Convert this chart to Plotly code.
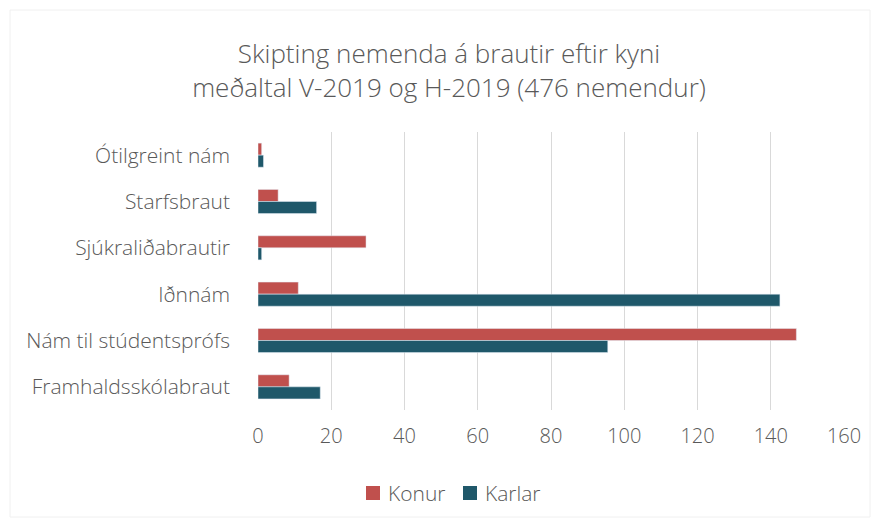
import plotly.graph_objects as go

categories = ["Ótilgreint nám", "Starfsbraut", "Sjúkraliðabrautir", "Iðnnám",
              "Nám til stúdentsprófs", "Framhaldsskólabraut"]
konur = [1, 5.5, 29.5, 11, 147, 8.5]
karlar = [1.5, 16, 1, 142.5, 95.5, 17]
x_ticks = [0, 20, 40, 60, 80, 100, 120, 140, 160]
series_names = ["Konur", "Karlar"]
series_colors = ["#C0504D", "#1F586A"]

FONT = "Open Sans"
GRAY = "#595959"

fig = go.Figure()
for name, vals, col in zip(series_names, [konur, karlar], series_colors):
    fig.add_trace(go.Bar(y=categories, x=vals, name=name, orientation="h",
                         marker=dict(color=col), showlegend=False))

W, H = 880, 527
L, R, T, B = 258, 36, 132, 117
PW, PH = W - L - R, H - T - B


def px(x):
    return (x - L) / PW


def py(y):
    return (H - B - y) / PH


# manual legend (pixel layout)
leg_sq = [366, 463]
leg_txt = [386, 483]
leg_y = 493
shapes = [dict(type="rect", xref="paper", yref="paper",
               x0=px(10), x1=px(870), y0=py(517), y1=py(10),
               line=dict(color="#F0F0F0", width=1), layer="below")]
annotations = []
for name, col, sx, tx in zip(series_names, series_colors, leg_sq, leg_txt):
    shapes.append(dict(type="rect", xref="paper", yref="paper",
                       x0=px(sx), x1=px(sx + 14), y0=py(leg_y + 7), y1=py(leg_y - 7),
                       fillcolor=col, line=dict(width=0)))
    annotations.append(dict(text=name, xref="paper", yref="paper", x=px(tx), y=py(leg_y),
                            xanchor="left", yanchor="middle", showarrow=False,
                            font=dict(family=FONT, size=21, color=GRAY, weight=300)))

fig.update_layout(
    width=W, height=H,
    margin=dict(l=L, r=R, t=T, b=B, autoexpand=False),
    paper_bgcolor="white", plot_bgcolor="white",
    barmode="group", bargap=0.48, bargroupgap=0,
    font=dict(family=FONT, color=GRAY),
    showlegend=False,
    title=dict(text="Skipting nemenda á brautir eftir kyni<br>meðaltal V-2019 og H-2019 (476 nemendur)",
               x=449 / W, xanchor="center", xref="container",
               y=1 - 63 / H, yanchor="middle", yref="container",
               font=dict(family=FONT, size=26, color=GRAY, weight=300)),
    xaxis=dict(range=[0, 160], tickvals=x_ticks, showgrid=True, gridcolor="#D9D9D9",
               gridwidth=1, zeroline=False, showline=False, automargin=False,
               tickfont=dict(family=FONT, size=20, color=GRAY, weight=300),
               ticklabelstandoff=12, fixedrange=True),
    yaxis=dict(autorange="reversed", showgrid=False, zeroline=False, automargin=False,
               tickfont=dict(family=FONT, size=21, color=GRAY, weight=300),
               ticklabelstandoff=27, showline=False, fixedrange=True),
    shapes=shapes,
    annotations=annotations,
)

fig.write_html("out.html", config={"displayModeBar": False},
               post_script="document.body.style.margin='0';document.body.style.overflow='hidden';")
